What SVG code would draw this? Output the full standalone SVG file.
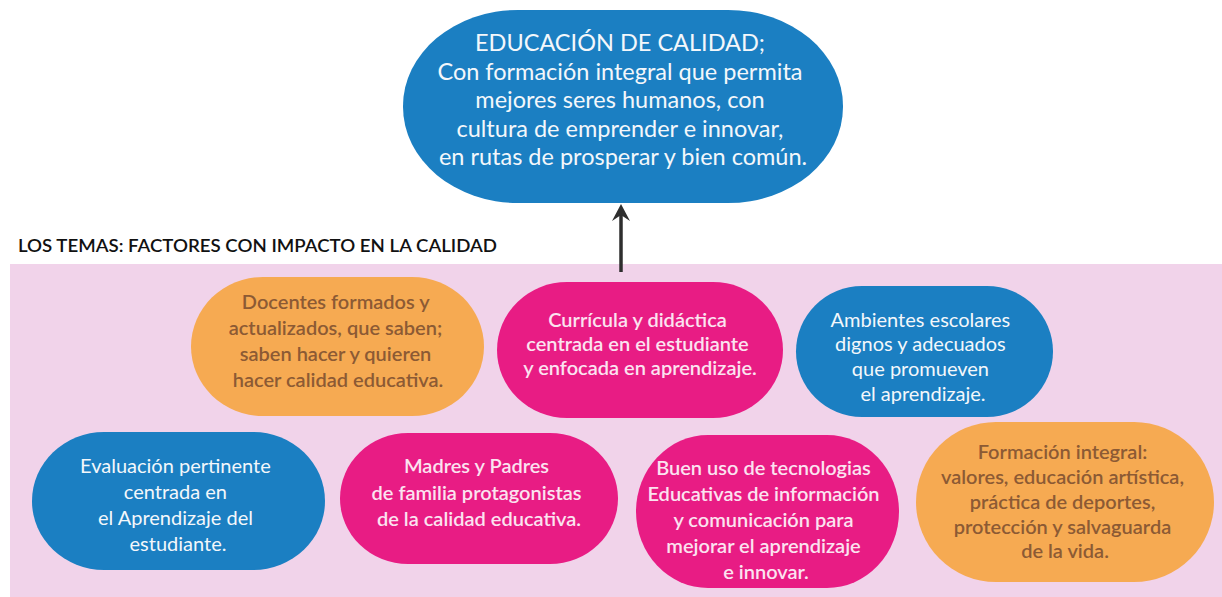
<svg xmlns="http://www.w3.org/2000/svg" width="1222" height="597" viewBox="0 0 1222 597">
<defs>
<style>
.t{font-family:"Lato","Liberation Sans",sans-serif;text-anchor:middle}
.tw{fill:#f3f7fb;font-size:20px}
.tp{fill:#fbe3f0;font-size:20px;font-weight:600}
.to{fill:#8c5a34;font-size:20px;font-weight:600}
.blue{fill:#1b7fc2}
.pink{fill:#e81c84}
.orange{fill:#f6aa52}
</style>
</defs>
<rect width="1222" height="597" fill="#ffffff"/>
<rect x="10" y="264" width="1212" height="333" fill="#f1d3ea"/>
<text x="18" y="252" font-family="Lato,'Liberation Sans',sans-serif" font-size="18" font-weight="600" fill="#111" textLength="479" lengthAdjust="spacingAndGlyphs">LOS TEMAS: FACTORES CON IMPACTO EN LA CALIDAD</text>

<g id="connectors">
<line x1="621" y1="272" x2="621" y2="214" stroke="#2e2e2e" stroke-width="3.5"/>
<path d="M621 204 L630 221 L621 215 L612 221 Z" fill="#2e2e2e"/>
</g>

<g id="n-top">
<rect x="403" y="10" width="440" height="193" rx="115" ry="96" class="blue"/>
<text class="t tw" style="font-size:23.5px">
<tspan x="623" y="51">EDUCACIÓN DE CALIDAD;</tspan>
<tspan x="623" y="80">Con formación integral que permita</tspan>
<tspan x="623" y="108">mejores seres humanos, con</tspan>
<tspan x="623" y="137">cultura de emprender e innovar,</tspan>
<tspan x="623" y="165">en rutas de prosperar y bien común.</tspan>
</text>
</g>

<g id="n-docentes">
<rect x="191" y="277" width="293" height="139" rx="72" ry="69.5" class="orange"/>
<text class="t to">
<tspan x="338" y="309">Docentes formados y</tspan>
<tspan x="338" y="335">actualizados, que saben;</tspan>
<tspan x="338" y="361">saben hacer y quieren</tspan>
<tspan x="338" y="387">hacer calidad educativa.</tspan>
</text>
</g>

<g id="n-curricula">
<rect x="497" y="282" width="286" height="136" rx="70" ry="68" class="pink"/>
<text class="t tp">
<tspan x="640" y="327">Currícula y didáctica</tspan>
<tspan x="640" y="351">centrada en el estudiante</tspan>
<tspan x="640" y="375">y enfocada en aprendizaje.</tspan>
</text>
</g>

<g id="n-ambientes">
<rect x="796" y="286" width="257" height="131" rx="66" ry="65.5" class="blue"/>
<text class="t tw">
<tspan x="923" y="327">Ambientes escolares</tspan>
<tspan x="923" y="351">dignos y adecuados</tspan>
<tspan x="923" y="376">que promueven</tspan>
<tspan x="923" y="401">el aprendizaje.</tspan>
</text>
</g>

<g id="n-evaluacion">
<rect x="32" y="432" width="293" height="138" rx="72" ry="69" class="blue"/>
<text class="t tw">
<tspan x="178" y="473">Evaluación pertinente</tspan>
<tspan x="178" y="499">centrada en</tspan>
<tspan x="178" y="525">el Aprendizaje del</tspan>
<tspan x="178" y="551">estudiante.</tspan>
</text>
</g>

<g id="n-madres">
<rect x="340" y="433" width="278" height="131" rx="68" ry="65.5" class="pink"/>
<text class="t tp">
<tspan x="479" y="473">Madres y Padres</tspan>
<tspan x="479" y="500">de familia protagonistas</tspan>
<tspan x="479" y="526">de la calidad educativa.</tspan>
</text>
</g>

<g id="n-tecnologias">
<rect x="636" y="435" width="263" height="153" rx="72" ry="76.5" class="pink"/>
<text class="t tp">
<tspan x="766" y="475">Buen uso de tecnologias</tspan>
<tspan x="766" y="501">Educativas de información</tspan>
<tspan x="766" y="527">y comunicación para</tspan>
<tspan x="766" y="553">mejorar el aprendizaje</tspan>
<tspan x="766" y="579">e innovar.</tspan>
</text>
</g>

<g id="n-formacion">
<rect x="916" y="422" width="298" height="160" rx="80" ry="80" class="orange"/>
<text class="t to">
<tspan x="1065" y="459">Formación integral:</tspan>
<tspan x="1065" y="484">valores, educación artística,</tspan>
<tspan x="1065" y="509">práctica de deportes,</tspan>
<tspan x="1065" y="534">protección y salvaguarda</tspan>
<tspan x="1065" y="558">de la vida.</tspan>
</text>
</g>
</svg>
